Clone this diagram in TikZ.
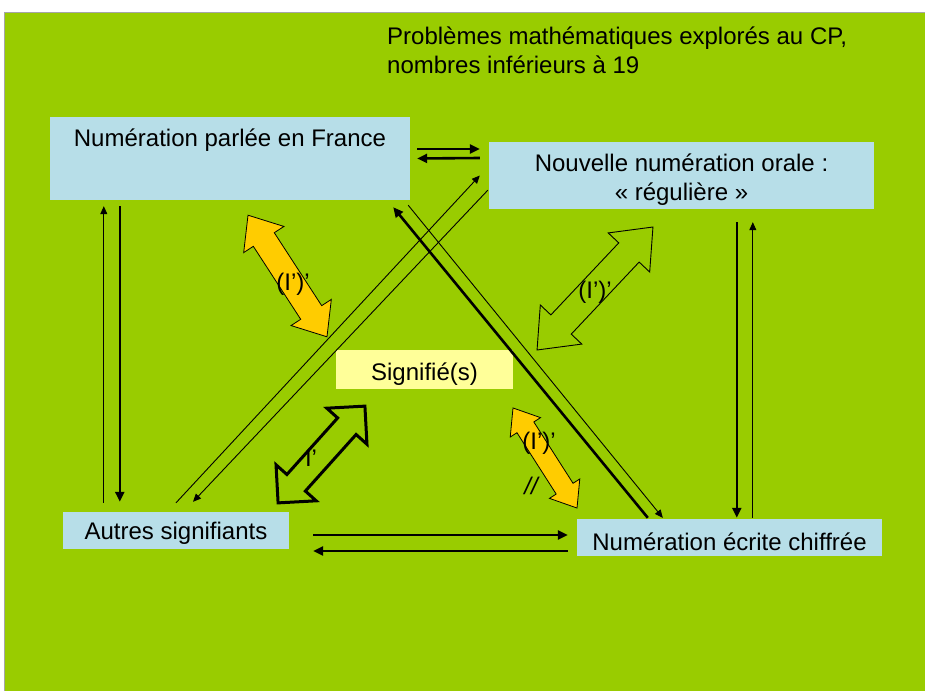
\documentclass[tikz,border=0pt]{standalone}
\usepackage{fontspec}
\setmainfont{Liberation Sans}
\usetikzlibrary{positioning,arrows.meta,calc}
\definecolor{fondvert}{HTML}{99CC00}
\definecolor{boitebleu}{HTML}{B7DEE8}
\definecolor{boitejaune}{HTML}{FFFF99}
\definecolor{flecheor}{HTML}{FFCC00}
\tikzset{
  boite/.style ={rectangle, fill=boitebleu, inner sep=0pt,
                 font=\fontsize{24}{29}\selectfont},
  boitej/.style={boite, fill=boitejaune},
  fin/.style   ={-{Triangle[length=8pt,width=7pt]}, line width=0.9pt},
  epais/.style ={-{Triangle[length=10pt,width=9pt]}, line width=2.6pt},
  etiq/.style  ={font=\fontsize{24}{29}\selectfont, inner sep=0pt},
  pics/dbl/.style n args={4}{code={
    \path[pic actions] (-#1,0) -- (-#1+#2,#3) -- (-#1+#2,#4) -- (#1-#2,#4) -- (#1-#2,#3)
      -- (#1,0) -- (#1-#2,-#3) -- (#1-#2,-#4) -- (-#1+#2,-#4) -- (-#1+#2,-#3) -- cycle;
  }}
}

\begin{document}
\begin{tikzpicture}[x=1pt,y=-1pt]
  \useasboundingbox (0,0) rectangle (925,690);
  \fill[fondvert] (4,12) rectangle (930,695);
  \draw[gray!70, line width=0.8pt] (4,695) -- (4,12) -- (930,12);

  \node[etiq, anchor=north west, align=left] (titre) at (387,27)
    {Problèmes mathématiques explorés au CP,\\nombres inférieurs à 19};

  % les quatre boites et le signifie
  \node[boite, minimum width=360, text height=29pt, text depth=54pt] (parlee) at (230,158.5) {Numération parlée en France};
  \node[boite, minimum width=385, minimum height=67, align=center] (regul) at (681.5,175.5) {\rule{0pt}{26pt}Nouvelle numération orale :\\« régulière »};
  \node[boite, minimum width=226, text height=27.6pt, text depth=9.4pt] (autres) at (176,530.5) {Autres signifiants};
  \node[boite, minimum width=305, text height=31pt, text depth=6pt] (ecrite) at (729.5,537.5) {Numération écrite chiffrée};
  \node[boitej, minimum width=177, text height=30pt, text depth=9pt] (signif) at (424.5,369.5) {Signifié(s)};

  % parlee <-> regul
  \draw[epais] ([xshift=7pt,yshift=9.5pt]parlee.east) -- ([xshift=-9pt,yshift=26.5pt]regul.west);
  \draw[epais] ([xshift=-9pt,yshift=17.5pt]regul.west) -- ([xshift=7pt]parlee.east);
  % parlee <-> autres
  \draw[fin] ([xshift=41pt,yshift=9pt]autres.north west) -- ([xshift=54pt,yshift=-6pt]parlee.south west);
  \draw[epais] ([xshift=70pt,yshift=-6pt]parlee.south west) -- ([xshift=57pt,yshift=10pt]autres.north west);
  % regul <-> ecrite
  \draw[epais] ([xshift=248pt,yshift=-13pt]regul.south west) -- ([xshift=160pt,yshift=1pt]ecrite.north west);
  \draw[fin] ([xshift=176pt,yshift=1pt]ecrite.north west) -- ([xshift=264pt,yshift=-13pt]regul.south west);
  % autres <-> ecrite
  \draw[epais] ([xshift=24pt,yshift=-4.5pt]autres.east) -- ([xshift=-9pt,yshift=2.5pt]ecrite.west);
  \draw[epais] ([xshift=-9pt,yshift=-13.5pt]ecrite.west) -- ([xshift=24pt,yshift=-20.5pt]autres.east);
  % diagonales
  \draw[fin] ([yshift=9pt]autres.north) -- ([xshift=-9pt]regul.west);
  \draw[fin] ([xshift=-1pt,yshift=19pt]regul.south west) -- ([xshift=17pt,yshift=10pt]autres.north);
  \draw[epais] ([xshift=71pt,yshift=1pt]ecrite.north west) -- ([xshift=-17pt,yshift=-7pt]parlee.south east);
  \draw[fin] ([xshift=-2pt,yshift=-5pt]parlee.south east) -- ([xshift=86pt,yshift=1pt]ecrite.north west);

  % fleches doubles
  \pic[draw=black, fill=flecheor, line width=0.8pt, rotate=-57] (fl1) at (287.5,276) {dbl={72.5}{29}{24}{12.5}};
  \pic[draw=black, line width=0.9pt, rotate=46.7] (fl2) at (595,288.5) {dbl={84.5}{35}{28.5}{14}};
  \pic[draw=black, line width=3pt, rotate=48.1] (fl3) at (321.5,454.5) {dbl={65}{27}{27}{12.4}};
  \pic[draw=black, fill=flecheor, line width=0.8pt, rotate=-57.4] (fl4) at (545,458) {dbl={59.4}{23}{18}{10}};

  \node[etiq] (e1) at (293,284) {(I’)’};
  \node[etiq] (e2) at (595,292) {(I’)’};
  \node[etiq] (e3) at (311,458) {I’};
  \node[etiq] (e4) at (539,443) {(I’)’};
  \node[etiq, font=\fontsize{24}{29}\selectfont\itshape] (e5) at (531,486) {//};
\end{tikzpicture}
\end{document}
